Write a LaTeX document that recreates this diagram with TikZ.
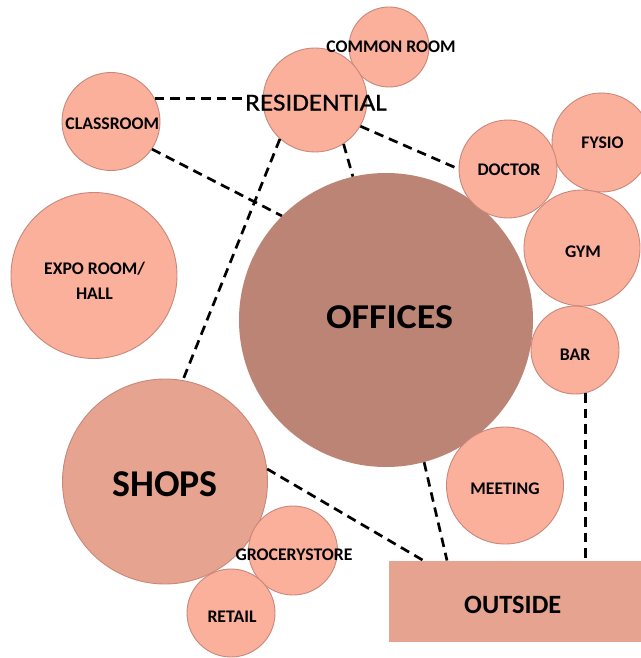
\documentclass[tikz,border=0pt]{standalone}
\usepackage{fontspec}
\setmainfont{Carlito}
\newfontfamily\resfont[FakeBold=0.7]{Carlito}
\definecolor{lite}{HTML}{FBB09C}
\definecolor{midc}{HTML}{E6A38F}
\definecolor{darkc}{HTML}{BB8475}
\definecolor{edgec}{HTML}{C8877A}
\begin{document}
\begin{tikzpicture}[x=1bp,y=-1bp,
  bub/.style={circle,draw=edgec,line width=0.9bp,fill=lite,inner sep=0pt,minimum size=#1},
  lbl/.style={font=\bfseries\fontsize{17.8}{20}\selectfont,inner sep=0pt},
  conn/.style={dash pattern=on 9.5bp off 6bp,line width=2.7bp,black}]
\useasboundingbox (0,0) rectangle (641,658);
% circles
\node[bub=80bp] (common) at (389,47) {};
\node[bub=104bp] (resid) at (315,100) {};
\node[bub=98bp] (class) at (111,121.5) {};
\node[bub=99bp] (fysio) at (601.5,142.5) {};
\node[bub=116bp] (gym) at (582,248) {};
\node[bub=166bp] (expo) at (94,275.5) {};
\node[circle,fill=darkc,inner sep=0pt,minimum size=294bp] (offices) at (386,320) {};
\node[bub=98bp] (doctor) at (508,169) {};
\node[bub=88bp] (bar) at (575,350) {};
\node[bub=117bp] (meeting) at (505,485.5) {};
\node[bub=205bp,fill=midc] (shops) at (165,481.5) {};
\node[bub=89bp] (grocery) at (293,550.5) {};
\node[bub=88bp] (retail) at (231,613) {};
\node[rectangle,fill=midc,inner sep=0pt,minimum width=252.5bp,minimum height=81bp] (outside) at (514.75,601.2) {};
% labels
\node[lbl] (commonT) at (391,46.5) {COMMON ROOM};
\node[font=\resfont\fontsize{24.5}{26}\selectfont,inner sep=0pt,xscale=1.11] (residT) at (316,102.7) {RESIDENTIAL};
\node[lbl] (classT) at (112.3,123.3) {CLASSROOM};
\node[lbl] (doctorT) at (509,170) {DOCTOR};
\node[lbl] (fysioT) at (602.5,143) {FYSIO};
\node[lbl] (gymT) at (583,252) {GYM};
\node[lbl,align=center,font=\bfseries\fontsize{17.8}{25}\selectfont] (expoT) at (94.5,281) {EXPO ROOM/\\HALL};
\node[font=\bfseries\fontsize{35}{38}\selectfont,inner sep=0pt,xscale=1.09] (officesT) at (389.5,317) {OFFICES};
\node[lbl] (barT) at (575,355) {BAR};
\node[font=\bfseries\fontsize{38}{40}\selectfont,inner sep=0pt] (shopsT) at (165,484) {SHOPS};
\node[lbl] (meetingT) at (505,489) {MEETING};
\node[lbl] (groceryT) at (294,555) {GROCERYSTORE};
\node[lbl] (retailT) at (232,617) {RETAIL};
\node[font=\bfseries\fontsize{26.5}{28}\selectfont,inner sep=0pt] (outsideT) at (512.7,605) {OUTSIDE};
% connectors
\draw[conn] (class.28) -- (class.28 -| residT.west);
\draw[conn] (class.-34) -- (offices.135);
\draw[conn] (resid.-132.6) -- (shops.80);
\draw[conn] (resid.-57.6) -- (offices.103);
\draw[conn] (resid.-30.6) -- (doctor.180);
\draw[conn] (shops.7.4) -- (outside.156.4);
\draw[conn] (offices.-75) -- (outside.149.2);
\draw[conn] (bar.-76) -- (bar.-76 |- outside.north);
\end{tikzpicture}
\end{document}
